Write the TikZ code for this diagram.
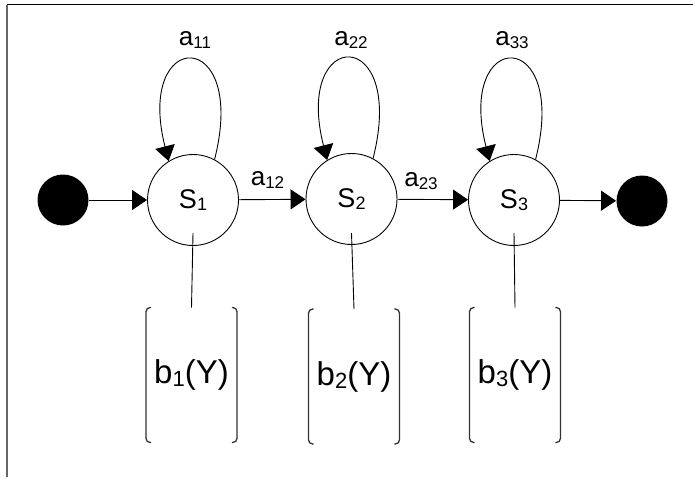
\documentclass[tikz,border=0pt]{standalone}
\usepackage{fontspec}
\setmainfont{Liberation Sans}
\usetikzlibrary{arrows.meta,calc}
\newcommand\lblA[2]{{\fontsize{26}{30}\selectfont #1\raisebox{-3pt}{\fontsize{17}{18}\selectfont #2}}}
\newcommand\lblS[2]{{\fontsize{27}{30}\selectfont #1\raisebox{-2pt}{\fontsize{18}{18}\selectfont #2}}}
\newcommand\lblB[1]{{\fontsize{33}{36}\selectfont b\raisebox{-3pt}{\fontsize{22}{22}\selectfont #1}(Y)}}
\begin{document}
\begin{tikzpicture}[x=1pt,y=-1pt,
  line width=0.9pt,
  state/.style={circle,draw,minimum size=91pt,inner sep=0pt},
  dot/.style={circle,fill=black,minimum size=51pt,inner sep=0pt},
  obsbox/.style={rectangle,minimum width=90pt,minimum height=134pt,inner sep=0pt},
  lab/.style={anchor=base,inner sep=0pt},
  arr/.style={-{Triangle[length=15pt,width=20pt]}},
  brk/.style={line width=1.3pt,draw=black!80,rounded corners=4pt}]
\useasboundingbox (0,0) rectangle (693,477);
% frame
\draw[black!60,line width=1.6pt] (7,477) -- (7,4.5);
\draw[black,line width=1pt] (6.5,4.5) -- (693,4.5);
% nodes
\node[dot] (start) at (63,200) {};
\node[state] (S1) at (193,200) {\lblS{S}{1}};
\node[state] (S2) at (351.5,199) {\lblS{S}{2}};
\node[state] (S3) at (514,200) {\lblS{S}{3}};
\node[dot] (end) at (642,201) {};
% observation boxes
\node[obsbox] (b1) at (191.5,375) {\lblB{1}};
\node[obsbox] (b2) at (354,376.5) {\lblB{2}};
\node[obsbox] (b3) at (515,375) {\lblB{3}};
\foreach \b in {b1,b2,b3}{
  \draw[brk] ([xshift=5pt]\b.north west) -- (\b.north west) -- (\b.south west) -- ([xshift=5pt]\b.south west);
  \draw[brk] ([xshift=-5pt]\b.north east) -- (\b.north east) -- (\b.south east) -- ([xshift=-5pt]\b.south east);
}
% horizontal transitions
\draw[arr] (start) -- (S1);
\draw[arr] (S1) -- (S2);
\draw[arr] (S2) -- (S3);
\draw[arr] (S3) -- (end);
% self loops
\foreach \s in {S1,S2,S3}{
  \draw[arr] (\s.62) .. controls +(34,-134) and +(-34,-134) .. (\s.122);
}
% emission links
\draw ([yshift=-33pt]S1.center) -- (b1.north);
\draw ([yshift=-34pt]S2.center) -- (b2.north);
\draw ([yshift=-33pt]S3.center) -- (b3.north);
% labels
\node[lab] (l11) at (195,45) {\lblA{a}{11}};
\node[lab] (l22) at (351,45) {\lblA{a}{22}};
\node[lab] (l33) at (512,45) {\lblA{a}{33}};
\node[lab] (l12) at (267.5,185) {\lblA{a}{12}};
\node[lab] (l23) at (421,186) {\lblA{a}{23}};
\end{tikzpicture}
\end{document}
